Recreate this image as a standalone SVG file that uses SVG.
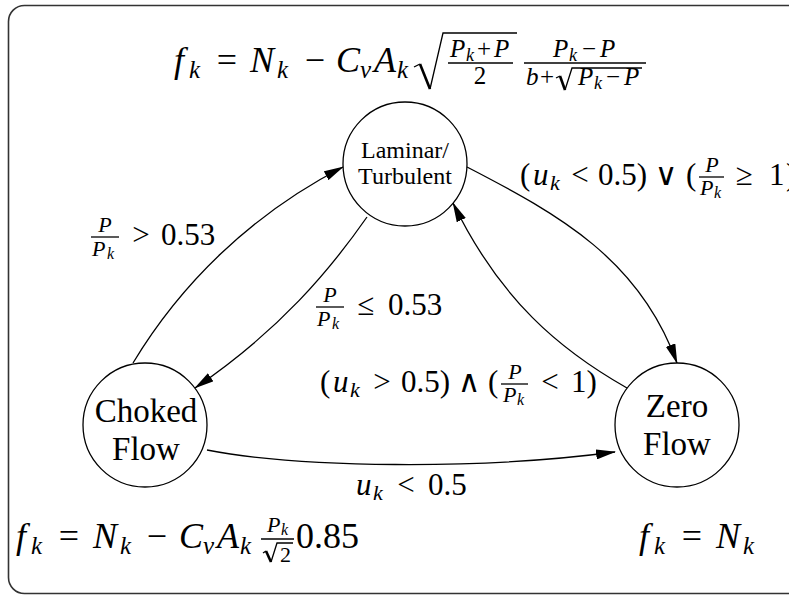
<svg xmlns="http://www.w3.org/2000/svg" width="789" height="596" viewBox="0 0 789 596">
<defs>
<style>
.t{font-family:"Liberation Serif","DejaVu Serif",serif;fill:#000}
.i{font-style:italic}
.F{font-size:36px}.Fs{font-size:25px}.Fss{font-size:18px}
.Fr{font-size:22px}.Frs{font-size:16px}
.L{font-size:31px}.Ls{font-size:22px}.Lss{font-size:16px}
.N{font-size:33px}.Nsm{font-size:24px}
.mid{text-anchor:middle}
.node circle{fill:#fff;stroke:#000;stroke-width:1.3}
.edge{fill:none;stroke:#000;stroke-width:1.3;marker-end:url(#ah)}
.rule{fill:none;stroke:#000;stroke-width:1.3}
.heavy{fill:none;stroke:#000;stroke-width:2.6}
</style>
<marker id="ah" viewBox="0 0 20 10" refX="19" refY="5" markerWidth="20" markerHeight="10" markerUnits="userSpaceOnUse" orient="auto">
<path d="M0,0 L20,5 L0,10 z" fill="#000"/>
</marker>
</defs>
<rect x="0" y="0" width="789" height="596" fill="#fff"/>
<rect x="8.5" y="5.5" width="800" height="588" rx="16" fill="none" stroke="#333" stroke-width="1.6"/>

<g id="connectors">
<path class="edge" d="M133,363 C180,285 250,215 343,167"/>
<path class="edge" d="M367,217 C330,270 280,330 195,388"/>
<path class="edge" d="M467,167 C560,215 640,260 677,363"/>
<path class="edge" d="M627,388 C560,350 500,300 453,203"/>
<path class="edge" d="M207,450 C300,468 480,470 615,452"/>
</g>

<g id="node-laminar" class="node">
<circle cx="405" cy="164" r="62"/>
<text class="t Nsm mid" x="405" y="158">Laminar/</text>
<text class="t Nsm mid" x="405" y="184">Turbulent</text>
</g>
<g id="node-choked" class="node">
<circle cx="145" cy="425" r="62"/>
<text class="t N mid" x="146" y="422">Choked</text>
<text class="t N mid" x="146" y="460">Flow</text>
</g>
<g id="node-zero" class="node">
<circle cx="677" cy="425" r="62"/>
<text class="t N mid" x="677" y="417">Zero</text>
<text class="t N mid" x="677" y="455">Flow</text>
</g>

<g id="label-gt053">
<text class="t i Ls mid" x="105" y="232">P</text>
<line class="rule" x1="91" y1="237" x2="119" y2="237"/>
<text class="t i Ls" x="92" y="256">P</text>
<text class="t i Lss" x="107" y="259">k</text>
<text class="t L mid" x="141" y="245">&gt;</text>
<text class="t L" x="161" y="245">0.53</text>
</g>

<g id="label-le053">
<text class="t i Ls mid" x="330" y="302">P</text>
<line class="rule" x1="316" y1="307" x2="344" y2="307"/>
<text class="t i Ls" x="317" y="326">P</text>
<text class="t i Lss" x="332" y="329">k</text>
<text class="t L mid" x="366" y="315">≤</text>
<text class="t L" x="388" y="315">0.53</text>
</g>

<g id="label-or">
<text class="t L" x="520" y="185">(</text>
<text class="t i L" x="533" y="185">u</text>
<text class="t i Ls" x="550" y="190">k</text>
<text class="t L mid" x="580" y="185">&lt;</text>
<text class="t L" x="598" y="185">0.5)</text>
<text class="t L mid" x="666" y="185">∨</text>
<text class="t L" x="686" y="185">(</text>
<text class="t i Ls mid" x="712" y="172">P</text>
<line class="rule" x1="699" y1="177" x2="724" y2="177"/>
<text class="t i Ls" x="700" y="195">P</text>
<text class="t i Lss" x="714" y="198">k</text>
<text class="t L mid" x="744" y="185">≥</text>
<text class="t L" x="769" y="185">1</text>
<text class="t L" x="786" y="185">)</text>
</g>

<g id="label-and">
<text class="t L" x="320" y="392">(</text>
<text class="t i L" x="333" y="392">u</text>
<text class="t i Ls" x="350" y="397">k</text>
<text class="t L mid" x="382" y="392">&gt;</text>
<text class="t L" x="401" y="392">0.5)</text>
<text class="t L mid" x="469" y="392">∧</text>
<text class="t L" x="488" y="392">(</text>
<text class="t i Ls mid" x="515" y="379">P</text>
<line class="rule" x1="501" y1="384" x2="528" y2="384"/>
<text class="t i Ls" x="503" y="402">P</text>
<text class="t i Lss" x="517" y="405">k</text>
<text class="t L mid" x="550" y="392">&lt;</text>
<text class="t L" x="571" y="392">1)</text>
</g>

<g id="label-lt05">
<text class="t i L" x="356" y="495">u</text>
<text class="t i Ls" x="373" y="500">k</text>
<text class="t L mid" x="406" y="495">&lt;</text>
<text class="t L" x="428" y="495">0.5</text>
</g>

<g id="formula-top">
<text class="t i F" x="174" y="72">f</text>
<text class="t i Fs" x="189" y="78">k</text>
<text class="t F mid" x="227" y="72">=</text>
<text class="t i F" x="250" y="72">N</text>
<text class="t i Fs" x="277" y="78">k</text>
<text class="t F mid" x="315" y="72">−</text>
<text class="t i F" x="336" y="72">C</text>
<text class="t i Fs" x="360" y="78">v</text>
<text class="t i F" x="374" y="72">A</text>
<text class="t i Fs" x="397" y="78">k</text>
<path class="rule" d="M414,67 L420,64"/>
<path class="heavy" d="M420,64 L430,89"/>
<path class="rule" d="M430,89 L443,33 L517,33"/>
<text class="t i Fs" x="450" y="57">P</text>
<text class="t i Fss" x="466" y="61">k</text>
<text class="t Fs mid" x="484" y="57">+</text>
<text class="t i Fs" x="494" y="57">P</text>
<line class="rule" x1="448" y1="63" x2="513" y2="63"/>
<text class="t Fs mid" x="480" y="84">2</text>
<text class="t i Fs" x="553" y="57">P</text>
<text class="t i Fss" x="569" y="61">k</text>
<text class="t Fs mid" x="589" y="57">−</text>
<text class="t i Fs" x="600" y="57">P</text>
<line class="rule" x1="524" y1="63" x2="646" y2="63"/>
<text class="t i Fs" x="526" y="85">b</text>
<text class="t Fs mid" x="547" y="85">+</text>
<path class="rule" d="M556,78 L560,76"/>
<path class="heavy" d="M560,76 L565,90"/>
<path class="rule" d="M565,90 L572,68 L642,68"/>
<text class="t i Fs" x="578" y="85">P</text>
<text class="t i Fss" x="594" y="89">k</text>
<text class="t Fs mid" x="613" y="85">−</text>
<text class="t i Fs" x="624" y="85">P</text>
</g>

<g id="formula-choked">
<text class="t i F" x="16" y="548">f</text>
<text class="t i Fs" x="31" y="554">k</text>
<text class="t F mid" x="69" y="548">=</text>
<text class="t i F" x="93" y="548">N</text>
<text class="t i Fs" x="120" y="554">k</text>
<text class="t F mid" x="157" y="548">−</text>
<text class="t i F" x="179" y="548">C</text>
<text class="t i Fs" x="203" y="554">v</text>
<text class="t i F" x="217" y="548">A</text>
<text class="t i Fs" x="240" y="554">k</text>
<text class="t i Fr" x="267" y="532">P</text>
<text class="t i Frs" x="281" y="535">k</text>
<line class="rule" x1="261" y1="539" x2="294" y2="539"/>
<path class="rule" d="M263,553 L266,551"/>
<path class="heavy" d="M266,551 L271,562"/>
<path class="rule" d="M271,562 L277,543 L293,543"/>
<text class="t Fr" x="280" y="562">2</text>
<text class="t F" x="296" y="548">0.85</text>
</g>

<g id="formula-zero">
<text class="t i F" x="639" y="548">f</text>
<text class="t i Fs" x="654" y="554">k</text>
<text class="t F mid" x="692" y="548">=</text>
<text class="t i F" x="716" y="548">N</text>
<text class="t i Fs" x="743" y="554">k</text>
</g>
</svg>
